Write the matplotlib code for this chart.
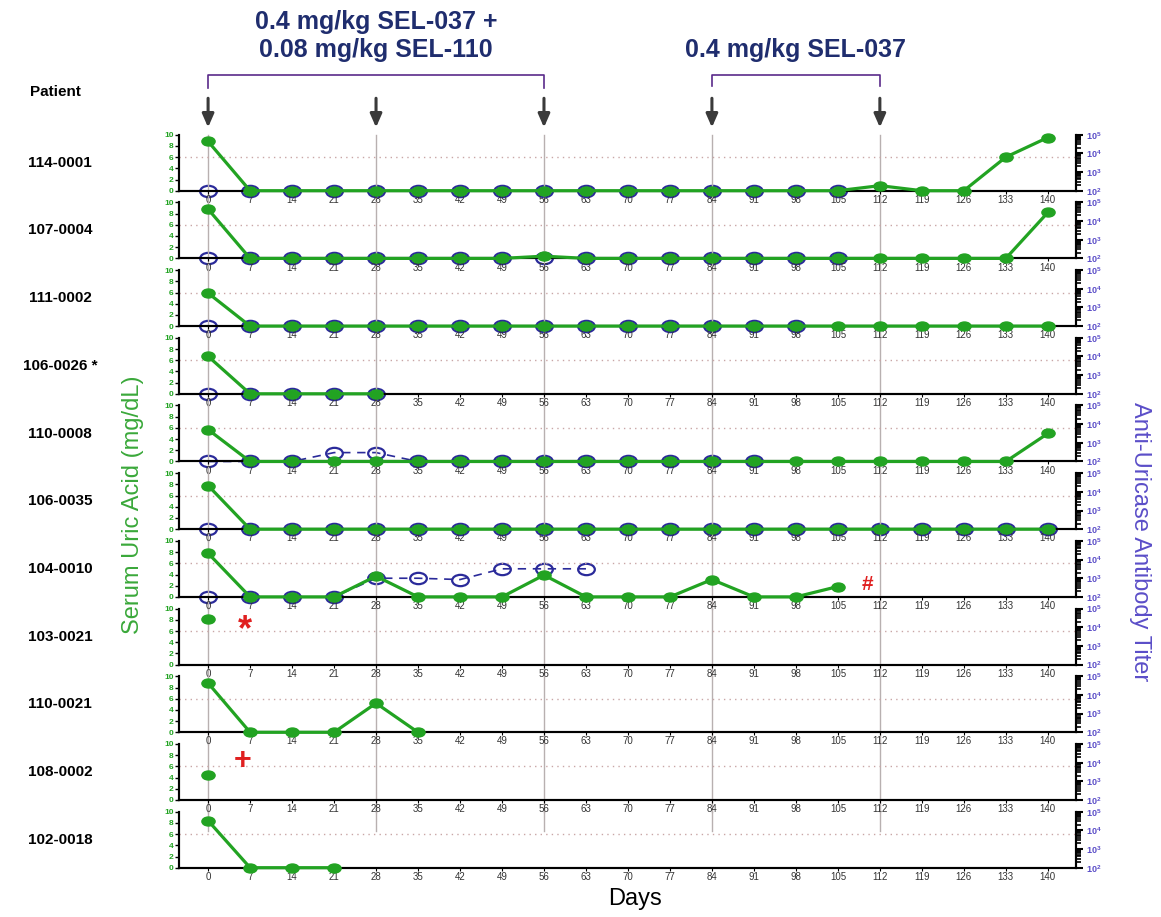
import numpy as np
import matplotlib
matplotlib.use('Agg')
import matplotlib.pyplot as plt
from matplotlib.path import Path
from matplotlib.ticker import LogLocator, NullFormatter
from matplotlib.transforms import blended_transform_factory, Affine2D

plt.rcParams['font.family'] = ['Liberation Sans', 'DejaVu Sans']

N = np.nan
# Visit days
days = list(range(0, 141, 7))
dose_days = [0, 28, 56, 84, 112]

patients = ['114-0001', '107-0004', '111-0002', '106-0026 *', '110-0008', '106-0035',
            '104-0010', '103-0021', '110-0021', '108-0002', '102-0018']

# Serum uric acid (mg/dL), one list per patient
sua_114_0001 = [8.8, 0, 0, 0, 0, 0, 0, 0, 0, 0, 0, 0, 0, 0, 0, 0, 0.9, 0, 0, 6.0, 9.5]
sua_107_0004 = [8.8, 0, 0, 0, 0, 0, 0, 0, 0.4, 0, 0, 0, 0, 0, 0, 0, 0, 0, 0, 0, 8.2]
sua_111_0002 = [5.9, 0, 0, 0, 0, 0, 0, 0, 0, 0, 0, 0, 0, 0, 0, 0, 0, 0, 0, 0, 0]
sua_106_0026 = [6.7, 0, 0, 0, 0, N, N, N, N, N, N, N, N, N, N, N, N, N, N, N, N]
sua_110_0008 = [5.7, 0, 0, 0, 0, 0, 0, 0, 0, 0, 0, 0, 0, 0, 0, 0, 0, 0, 0, 0, 5.0]
sua_106_0035 = [7.8, 0, 0, 0, 0, 0, 0, 0, 0, 0, 0, 0, 0, 0, 0, 0, 0, 0, 0, 0, 0]
sua_104_0010 = [7.8, 0, 0, 0, 3.7, 0, 0, 0, 3.9, 0, 0, 0, 3.1, 0, 0, 1.85, N, N, N, N, N]
sua_103_0021 = [8.2, N, N, N, N, N, N, N, N, N, N, N, N, N, N, N, N, N, N, N, N]
sua_110_0021 = [8.8, 0, 0, 0, 5.2, 0, N, N, N, N, N, N, N, N, N, N, N, N, N, N, N]
sua_108_0002 = [4.4, N, N, N, N, N, N, N, N, N, N, N, N, N, N, N, N, N, N, N, N]
sua_102_0018 = [8.4, 0, 0, 0, N, N, N, N, N, N, N, N, N, N, N, N, N, N, N, N, N]

# Anti-uricase antibody titer, one list per patient (nan = not measured)
titer_114_0001 = [100] * 16 + [N] * 5
titer_107_0004 = [100] * 16 + [N] * 5
titer_111_0002 = [100] * 15 + [N] * 6
titer_106_0026 = [100] * 5 + [N] * 16
titer_110_0008 = [100, 100, 100, 300, 300, 100, 100, 100, 100, 100, 100, 100, 100, 100] + [N] * 7
titer_106_0035 = [100] * 21
titer_104_0010 = [100, 100, 100, 100, 1000, 1000, 850, 3200, 3200, 3200] + [N] * 11
titer_103_0021 = [N] * 21
titer_110_0021 = [N] * 21
titer_108_0002 = [N] * 21
titer_102_0018 = [N] * 21

sua = [sua_114_0001, sua_107_0004, sua_111_0002, sua_106_0026, sua_110_0008, sua_106_0035,
       sua_104_0010, sua_103_0021, sua_110_0021, sua_108_0002, sua_102_0018]
titer = [titer_114_0001, titer_107_0004, titer_111_0002, titer_106_0026, titer_110_0008,
         titer_106_0035, titer_104_0010, titer_103_0021, titer_110_0021, titer_108_0002,
         titer_102_0018]

GREEN = '#22a322'
BLUE = '#2a2a9a'
PURPLE = '#5b4ec8'
NAVY = '#1f2d6e'

# squashed circle markers (the original is stretched horizontally)
ellipse = Path.unit_circle().transformed(Affine2D().scale(1.0, 0.68))

W, H = 1161, 917
fig = plt.figure(figsize=(W / 100, H / 100), dpi=100)

left_px, right_px = 179.3, 1076
axes = []
for i, name in enumerate(patients):
    y0 = 190.7 + 67.7 * i
    ax = fig.add_axes([left_px / W, 1 - y0 / H, (right_px - left_px) / W, 56 / H])
    ax2 = ax.twinx()
    ax.set_zorder(ax2.get_zorder() + 1)
    ax.patch.set_visible(False)

    ax.set_xlim(-4.8, 144.7)
    ax.set_ylim(0, 10)
    ax2.set_yscale('log')
    ax2.set_ylim(1e2, 1e5)

    # dose day lines and 6 mg/dL reference
    for d in dose_days:
        ymin = 0.65 if i == len(patients) - 1 else -0.21
        ax.axvline(d, ymin=ymin, ymax=1, color='#b8b0b0', lw=1, zorder=0, clip_on=False)
    ax.axhline(6, color='#c9a6a6', lw=1, ls=(0, (1, 3)), zorder=0)

    # antibody titer (blue, dashed, hollow)
    ax2.plot(days, titer[i], color=BLUE, lw=1.2, ls=(0, (5, 4)), marker=ellipse, ms=12,
             mfc='none', mec=BLUE, mew=1.6, clip_on=False)
    # serum uric acid (green)
    ax.plot(days, sua[i], color=GREEN, lw=2.3, marker=ellipse, ms=9.5, mfc=GREEN,
            mec=GREEN, clip_on=False, zorder=5)

    for a in (ax, ax2):
        a.spines['top'].set_visible(False)
        for s in ('left', 'right', 'bottom'):
            a.spines[s].set_color('black')
            a.spines[s].set_linewidth(1.5)

    ax.set_xticks(days)
    ax.set_xticklabels([str(d) for d in days], fontsize=7, color='#333333')
    ax.tick_params(axis='x', length=2, pad=1)
    ax.set_yticks([0, 2, 4, 6, 8, 10])
    ax.tick_params(axis='y', labelsize=6, labelcolor=GREEN, length=3, width=1, pad=1)
    for lab in ax.get_yticklabels():
        lab.set_fontweight('bold')

    ax2.yaxis.set_major_locator(LogLocator(base=10, numticks=10))
    ax2.yaxis.set_minor_locator(LogLocator(base=10, subs=np.arange(2, 10), numticks=20))
    ax2.yaxis.set_minor_formatter(NullFormatter())
    ax2.tick_params(axis='y', which='major', labelsize=6.5, labelcolor=PURPLE, length=5, width=1.5, pad=2)
    ax2.tick_params(axis='y', which='minor', length=3.5, width=1.2)
    for lab in ax2.get_yticklabels():
        lab.set_fontweight('bold')

    fig.text(60 / W, 1 - (y0 - 28) / H, name, ha='center', va='center', fontsize=11, fontweight='bold')
    axes.append(ax)

# footnote symbols
axes[7].text(6.2, 6.0, '*', color='#e02020', fontsize=26, fontweight='bold', ha='center', va='center')
axes[9].text(5.8, 7.0, '+', color='#e02020', fontsize=22, fontweight='bold', ha='center', va='center')
axes[6].text(110, 2.2, '#', color='#e02020', fontsize=15, fontweight='bold', ha='center', va='center')

# dosing arrows and brackets above the first panel
top = axes[0]
tr = blended_transform_factory(top.transData, top.transAxes)
for d in dose_days:
    top.annotate('', xy=(d, 1.08), xytext=(d, 1.7), xycoords=tr, textcoords=tr,
                 arrowprops=dict(arrowstyle='-|>,head_length=0.8,head_width=0.35',
                                 color='#3a3a3a', lw=2.2))
top.plot([0, 0, 56, 56], [1.83, 2.07, 2.07, 1.83], transform=tr, color='#5a2a8a', lw=1.2, clip_on=False)
top.plot([84, 84, 112, 112], [1.87, 2.07, 2.07, 1.87], transform=tr, color='#5a2a8a', lw=1.2, clip_on=False)
top.text(28, 2.76, '0.4 mg/kg SEL-037 +\n0.08 mg/kg SEL-110', transform=tr, ha='center', va='center',
         fontsize=18, fontweight='bold', color=NAVY, linespacing=1.2)
top.text(98, 2.52, '0.4 mg/kg SEL-037', transform=tr, ha='center', va='center',
         fontsize=18, fontweight='bold', color=NAVY)

fig.text(55 / W, 1 - 92 / H, 'Patient', ha='center', va='center', fontsize=11, fontweight='bold')
fig.text(133 / W, 1 - 505 / H, 'Serum Uric Acid (mg/dL)', rotation=90, ha='center', va='center',
         fontsize=17, color='#3aa83a')
fig.text(1140 / W, 1 - 542 / H, 'Anti-Uricase Antibody Titer', rotation=270, ha='center', va='center',
         fontsize=17, color=PURPLE)
fig.text(635 / W, 1 - 899 / H, 'Days', ha='center', va='center', fontsize=17)

fig.savefig('out.png', dpi=100)
